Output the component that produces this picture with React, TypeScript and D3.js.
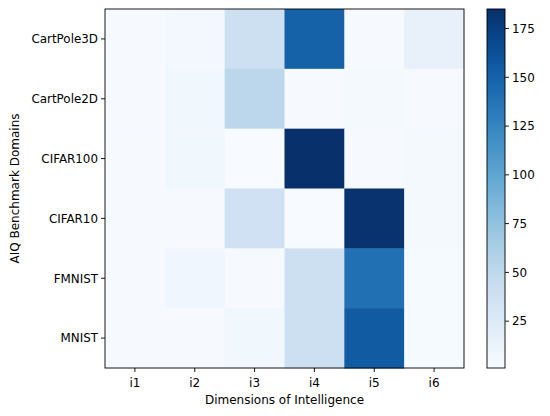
import React from "react";
import * as d3 from "d3";

const domains = ["CartPole3D", "CartPole2D", "CIFAR100", "CIFAR10", "FMNIST", "MNIST"];
const dims = ["i1", "i2", "i3", "i4", "i5", "i6"];

// one row per domain, one value per dimension
const cartPole3D = [2, 6, 40, 150, 2, 15];
const cartPole2D = [2, 7, 52, 2, 4, 2];
const cifar100 = [2, 7, 1, 185, 2, 4];
const cifar10 = [2, 2, 38, 1, 183, 4];
const fmnist = [2, 8, 2, 40, 140, 3];
const mnist = [2, 2, 7, 40, 155, 3];
const rows = [cartPole3D, cartPole2D, cifar100, cifar10, fmnist, mnist];

const cbarTicks = [25, 50, 75, 100, 125, 150, 175];

const font = "DejaVu Sans, sans-serif";

export default function App() {
  const left = 105;
  const right = 464;
  const top = 9;
  const bottom = 368;
  const cbLeft = 487;
  const cbRight = 505;

  const x = d3.scaleBand().domain(dims).range([left, right]);
  const y = d3.scaleBand().domain(domains).range([top, bottom]);

  const all = rows.flat();
  const vmin = d3.min(all) as number;
  const vmax = d3.max(all) as number;
  const color = d3.scaleSequential(d3.interpolateBlues).domain([vmin, vmax]);
  const cy = d3.scaleLinear().domain([vmin, vmax]).range([bottom, top]);

  const stops = d3.range(0, 1.0001, 0.05);

  return (
    <svg width={550} height={416} style={{ display: "block", margin: "-8px" }}>
      <defs>
        <linearGradient id="cb" x1="0" y1="1" x2="0" y2="0">
          {stops.map((t) => (
            <stop key={t} offset={t} stopColor={d3.interpolateBlues(t)} />
          ))}
        </linearGradient>
      </defs>
      <rect width={550} height={416} fill="#fff" />
      {rows.map((vals, ri) =>
        vals.map((v, ci) => (
          <rect
            key={`${ri}-${ci}`}
            x={x(dims[ci])}
            y={y(domains[ri])}
            width={x.bandwidth() + 0.5}
            height={y.bandwidth() + 0.5}
            fill={color(v)}
          />
        ))
      )}
      <rect x={left} y={top} width={right - left} height={bottom - top} fill="none" stroke="#000" strokeWidth={0.9} />
      {dims.map((d) => {
        const cx = (x(d) as number) + x.bandwidth() / 2;
        return (
          <g key={d}>
            <line x1={cx} x2={cx} y1={bottom} y2={bottom + 4} stroke="#000" strokeWidth={0.9} />
            <text x={cx} y={bottom + 18.5} textAnchor="middle" fontFamily={font} fontSize={12}>
              {d}
            </text>
          </g>
        );
      })}
      {domains.map((d) => {
        const yy = (y(d) as number) + y.bandwidth() / 2;
        return (
          <g key={d}>
            <line x1={left - 4} x2={left} y1={yy} y2={yy} stroke="#000" strokeWidth={0.9} />
            <text x={left - 7} y={yy + 4.3} textAnchor="end" fontFamily={font} fontSize={11.9}>
              {d}
            </text>
          </g>
        );
      })}
      <text x={(left + right) / 2} y={404} textAnchor="middle" fontFamily={font} fontSize={12}>
        Dimensions of Intelligence
      </text>
      <text
        transform={`translate(19, ${(top + bottom) / 2}) rotate(-90)`}
        textAnchor="middle"
        fontFamily={font}
        fontSize={12}
      >
        AIQ Benchmark Domains
      </text>
      <rect x={cbLeft} y={top} width={cbRight - cbLeft} height={bottom - top} fill="url(#cb)" />
      <rect x={cbLeft} y={top} width={cbRight - cbLeft} height={bottom - top} fill="none" stroke="#000" strokeWidth={0.9} />
      {cbarTicks.map((t) => (
        <g key={t}>
          <line x1={cbRight} x2={cbRight + 4} y1={cy(t)} y2={cy(t)} stroke="#000" strokeWidth={0.9} />
          <text x={cbRight + 7} y={cy(t) + 4.3} fontFamily={font} fontSize={11.9}>
            {t}
          </text>
        </g>
      ))}
    </svg>
  );
}
